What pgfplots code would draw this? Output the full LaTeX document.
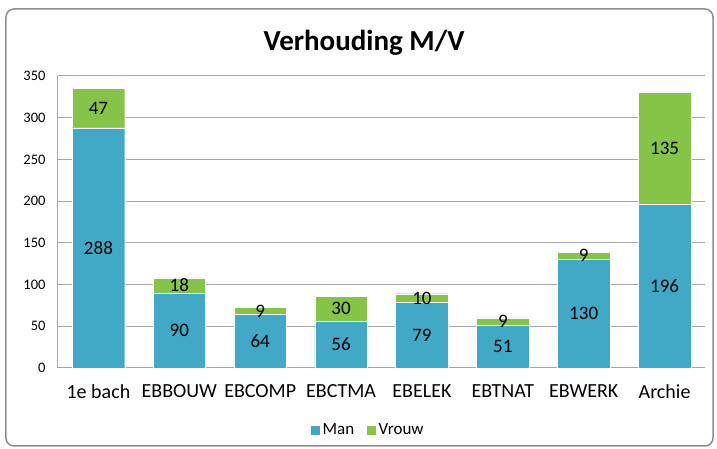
\documentclass[border=0pt]{standalone}
\usepackage{pgfplots}
\pgfplotsset{compat=1.18}
\usepackage{fontspec}
\setmainfont{Carlito}
\definecolor{manc}{HTML}{41A9C6}
\definecolor{vrouwc}{HTML}{86C447}
\definecolor{gridc}{HTML}{A6A6A6}
\begin{document}
\begin{tikzpicture}
\begin{axis}[
  name=ax,
  at={(0,0)}, anchor=south west,
  scale only axis,
  width=647pt, height=292pt,
  ybar stacked,
  bar width=0.65,
  xmin=-0.5, xmax=7.5,
  ymin=0, ymax=350,
  ytick={0,50,...,350},
  xtick={0,1,2,3,4,5,6,7},
  xticklabels={1e bach,EBBOUW,EBCOMP,EBCTMA,EBELEK,EBTNAT,EBWERK,Archie},
  axis line style={gridc, line width=1pt},
  axis x line*=bottom,
  axis y line*=left,
  ymajorgrids,
  grid style={gridc, line width=1pt},
  major tick length=0pt,
  /pgf/number format/assume math mode=true,
  yticklabel style={font=\fontsize{14.5}{16}\selectfont, xshift=-9pt},
  xticklabel style={font=\fontsize{20}{22}\selectfont, yshift=-13pt},
  nodes near coords,
  every node near coord/.append style={font=\fontsize{19}{21}\selectfont, anchor=center},
  legend style={at={(0.479,-0.2123)}, anchor=center, draw=none, fill=none,
    legend columns=2, font=\fontsize{17}{19}\selectfont,
    /tikz/every even column/.append style={column sep=10pt}},
  legend image code/.code={\fill[#1] (0pt,-5pt) rectangle (10pt,5pt);},
  clip=false,
]
\addplot[fill=manc, draw=white, line width=0.4pt] coordinates {(0,288) (1,90) (2,64) (3,56) (4,79) (5,51) (6,130) (7,196)};
\addplot[fill=vrouwc, draw=white, line width=0.4pt] coordinates {(0,47) (1,18) (2,9) (3,30) (4,10) (5,9) (6,9) (7,135)};
\legend{Man,Vrouw}
\end{axis}
\draw[gridc!85!black, line width=1.5pt, rounded corners=8pt] ([shift={(-52pt,-78pt)}]ax.south west) rectangle ([shift={(655pt,359pt)}]ax.south west);
\node[font=\fontsize{29}{32}\selectfont\bfseries] at ([shift={(306pt,325pt)}]ax.south west) {Verhouding M/V};
\useasboundingbox ([shift={(-58pt,-81pt)}]ax.south west) rectangle ([shift={(659pt,368pt)}]ax.south west);
\end{tikzpicture}
\end{document}
